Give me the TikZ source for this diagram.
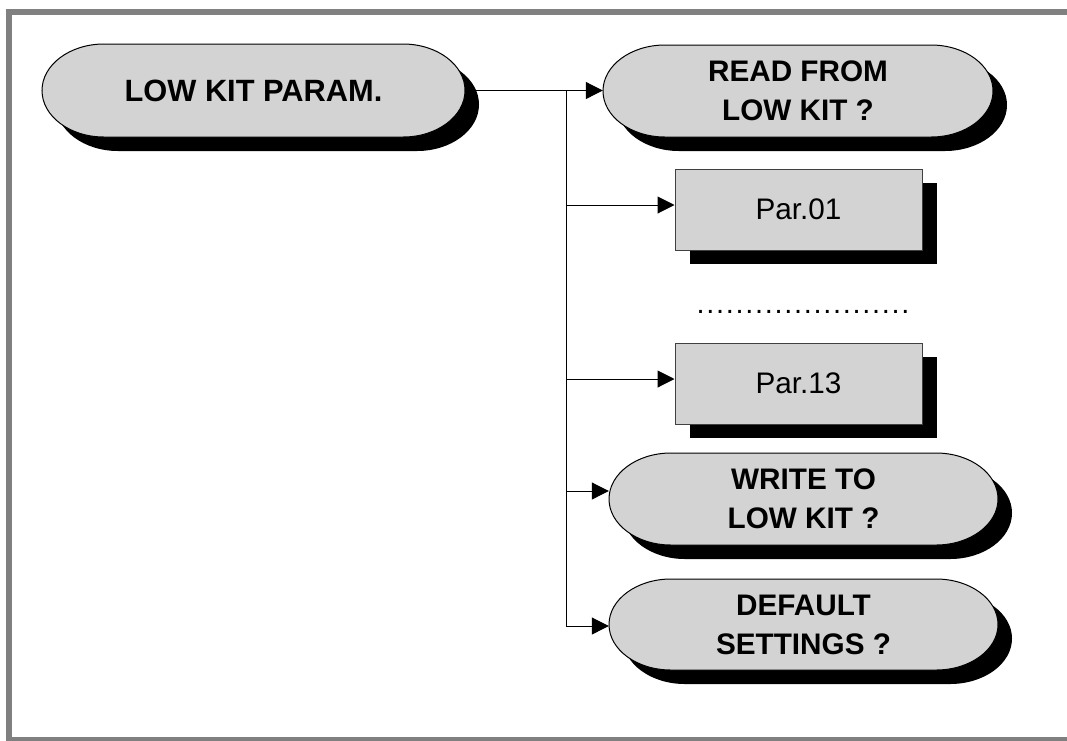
\documentclass[tikz,border=0pt]{standalone}
\usepackage{fontspec}
\setmainfont{Liberation Sans}
\usetikzlibrary{arrows.meta,shadows}
\definecolor{boxgray}{RGB}{211,211,211}
\definecolor{framegray}{RGB}{128,128,128}
\newcommand\stadium[6]{%
  \path[#1] ({#2-#4/2+#6},{#3+#5/2}) -- ({#2+#4/2-#6},{#3+#5/2})
    arc[start angle=90,end angle=-90,x radius=#6,y radius={#5/2}]
    -- ({#2-#4/2+#6},{#3-#5/2})
    arc[start angle=270,end angle=90,x radius=#6,y radius={#5/2}] -- cycle;}
\newcommand\ovalnode[7]{%
  \stadium{fill=black}{#2+14}{#3-14}{#4}{#5}{62}
  \stadium{fill=boxgray,draw=black,line width=1pt}{#2}{#3}{#4}{#5}{62}
  \node[ovaltext,minimum width=#4,minimum height=#5,#7] (#1) at (#2,#3) {#6};}
\newcommand\dotrow{\foreach \i in {1,...,22}{\makebox[9.75pt]{.}}}
\tikzset{
  ovaltext/.style={font=\bfseries\fontsize{29.7}{39}\selectfont, align=center, inner sep=0pt, shape=rectangle},
  parbox/.style={draw=black!75, line width=1pt, fill=boxgray, minimum width=247, minimum height=81,
    inner sep=0pt, font=\fontsize{29.7}{35}\selectfont,
    drop shadow={shadow xshift=15pt, shadow yshift=-14pt, opacity=1, fill=black}},
  conn/.style={line width=1pt, draw=black},
  arr/.style={conn, -{Triangle[length=17pt,width=17pt]}},
}
\begin{document}
\begin{tikzpicture}[x=1pt,y=1pt]
\useasboundingbox (0,0) rectangle (1067,-740);
% frame
\draw[framegray, line width=6pt] (9,-760) -- (9,-12) -- (1080,-12);
\draw[framegray, line width=6pt] (6,-739.7) -- (1080,-739.7);
% nodes
\ovalnode{lk}{253.5}{-90.5}{423}{93}{LOW KIT PARAM.}{font=\bfseries\fontsize{30.8}{39}\selectfont}
\ovalnode{rd}{798}{-91}{390}{92}{READ FROM\\LOW KIT ?}{}
\node[parbox] (p1) at (798.5,-209.5) {Par.01};
\node[font=\fontsize{29}{35}\selectfont, inner sep=0pt] (dots) at (803,-312) {\dotrow};
\node[parbox] (p13) at (798.5,-383.5) {Par.13};
\ovalnode{wr}{803.5}{-499}{389}{92}{WRITE TO\\LOW KIT ?}{}
\ovalnode{df}{803.5}{-624.5}{389}{91}{DEFAULT\\SETTINGS ?}{}
% connectors
\coordinate (bus) at (566,-91);
\coordinate (p1in) at ([yshift=4.5pt]p1.west);
\coordinate (p13in) at ([yshift=4.5pt]p13.west);
\coordinate (wrin) at ([yshift=8pt]wr.west);
\coordinate (dfin) at ([yshift=-1.5pt]df.west);
\draw[arr] (lk.east) -- (lk.east -| rd.west);
\draw[arr] (bus) |- (dfin);
\draw[arr] (bus |- p1in) -- (p1in);
\draw[arr] (bus |- p13in) -- (p13in);
\draw[arr] (bus |- wrin) -- (wrin);
\end{tikzpicture}
\end{document}
